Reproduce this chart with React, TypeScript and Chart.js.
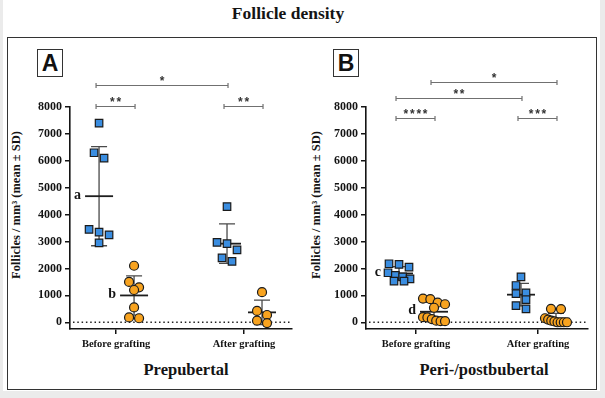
import React, { useEffect, useRef } from "react";
import { Chart, registerables } from "chart.js";

Chart.register(...registerables);

// ---------- data ----------
const categories = ["Before grafting", "After grafting"];
const yTicks = [0, 1000, 2000, 3000, 4000, 5000, 6000, 7000, 8000];
const yMin = -250;
const yMax = 8000;

// Prepubertal (A)
const prepubBlueBefore = [7400, 6300, 6100, 3450, 3350, 3250, 2950];
const prepubOrangeBefore = [2100, 1500, 1300, 1200, 550, 180, 150];
const prepubBlueAfter = [4300, 2970, 2920, 2690, 2390, 2260];
const prepubOrangeAfter = [1120, 420, 270, 60, -30];
const prepubLetters = [["a", "b"], ["", ""]];

// Peri-/postpubertal (B)
const periBlueBefore = [2175, 2150, 2050, 1840, 1740, 1690, 1615, 1530, 1530];
const periOrangeBefore = [880, 860, 730, 670, 540, 190, 180, 120, 60, 40, 40];
const periBlueAfter = [1690, 1366, 1093, 1068, 845, 621, 497];
const periOrangeAfter = [500, 490, 150, 100, 60, 30, 0, 0, 0, 0];
const periLetters = [["c", "d"], ["", ""]];

// significance brackets: from/to = [categoryIndex, seriesIndex]
type Bracket = { from: [number, number]; to: [number, number]; y: number; label: string };
const prepubBrackets: Bracket[] = [
  { from: [0, 0], to: [0, 1], y: 8050, label: "**" },
  { from: [1, 0], to: [1, 1], y: 8050, label: "**" },
  { from: [0, 0], to: [1, 0], y: 8800, label: "*" },
];
const periBrackets: Bracket[] = [
  { from: [0, 0], to: [0, 1], y: 7600, label: "****" },
  { from: [1, 0], to: [1, 1], y: 7600, label: "***" },
  { from: [0, 0], to: [1, 0], y: 8330, label: "**" },
  { from: [0, 1], to: [1, 1], y: 8930, label: "*" },
];

// ---------- styles ----------
const BLUE = "#3a8de0";
const ORANGE = "#f8a31f";
const INK = "#141414";
const SERIF = "'Liberation Serif', 'Times New Roman', serif";
const SANS = "'Liberation Sans', Arial, sans-serif";
const groupOffsetPx = [-17, 18];
const rowHeightPx = 8;
const rowStepPx = 10;
const rowMaxWidthPx = 22;

type Panel = {
  values: number[][][]; // [category][series]
  letters: string[][];
  brackets: Bracket[];
  xRange: [number, number];
  padLeft: number;
  padRight: number;
};

const prepubPanel: Panel = {
  values: [
    [prepubBlueBefore, prepubOrangeBefore],
    [prepubBlueAfter, prepubOrangeAfter],
  ],
  letters: prepubLetters,
  brackets: prepubBrackets,
  xRange: [0.64, 2.375],
  padLeft: 20,
  padRight: 313,
};

const periPanel: Panel = {
  values: [
    [periBlueBefore, periOrangeBefore],
    [periBlueAfter, periOrangeAfter],
  ],
  letters: periLetters,
  brackets: periBrackets,
  xRange: [0.59, 2.41],
  padLeft: 316,
  padRight: 17,
};

function meanSd(v: number[]) {
  const m = v.reduce((a, b) => a + b, 0) / v.length;
  const s = Math.sqrt(v.reduce((a, b) => a + (b - m) * (b - m), 0) / (v.length - 1));
  return { m, s };
}

// Prism-like scatter: group points of similar pixel height into rows, spread each row centred
function rowSpread(pys: number[]): number[] {
  const order = pys.map((y, i) => i).sort((a, b) => pys[a] - pys[b]);
  const offs = new Array(pys.length).fill(0);
  let i = 0;
  while (i < order.length) {
    const start = pys[order[i]];
    const row: number[] = [];
    while (i < order.length && pys[order[i]] - start <= rowHeightPx) {
      row.push(order[i]);
      i++;
    }
    const n = row.length;
    const step = n > 1 ? Math.min(rowStepPx, rowMaxWidthPx / (n - 1)) : 0;
    row.forEach((idx, k) => {
      offs[idx] = (k - (n - 1) / 2) * step;
    });
  }
  return offs;
}

function buildChart(canvas: HTMLCanvasElement, panel: Panel) {
  const datasets: any[] = [];
  panel.values.forEach((bySeries, c) => {
    bySeries.forEach((vals, s) => {
      datasets.push({
        label: `${categories[c]}-${s}`,
        data: vals.map((v) => ({ x: c + 1, y: v })),
        _vals: vals,
        _cat: c,
        _series: s,
        showLine: false,
        pointStyle: s === 0 ? "rect" : "circle",
        pointRadius: s === 0 ? 5.3 : 4.5,
        backgroundColor: s === 0 ? BLUE : ORANGE,
        borderColor: "#1b1b1b",
        borderWidth: 1.2,
        clip: false,
      });
    });
  });

  const groupPx = (chart: any, c: number, s: number) =>
    chart.scales.x.getPixelForValue(c + 1) + groupOffsetPx[s];

  const overlay = {
    id: "overlay",
    beforeDatasetsDraw(chart: any) {
      const { ctx, chartArea } = chart;
      const y = chart.scales.y;
      ctx.save();
      const y0 = y.getPixelForValue(0);
      ctx.setLineDash([1.5, 2.8]);
      ctx.strokeStyle = "#222";
      ctx.lineWidth = 1.4;
      ctx.beginPath();
      ctx.moveTo(chartArea.left + 3, y0);
      ctx.lineTo(chartArea.right, y0);
      ctx.stroke();
      ctx.setLineDash([]);
      panel.values.forEach((bySeries, c) => {
        bySeries.forEach((vals, s) => {
          const { m, s: sd } = meanSd(vals);
          const cx = groupPx(chart, c, s);
          const pm = y.getPixelForValue(m);
          const pt = y.getPixelForValue(m + sd);
          const pb = y.getPixelForValue(m - sd);
          ctx.strokeStyle = "#4a4a4a";
          ctx.lineWidth = 1.3;
          ctx.beginPath();
          ctx.moveTo(cx, pt);
          ctx.lineTo(cx, pb);
          ctx.moveTo(cx - 8, pt);
          ctx.lineTo(cx + 8, pt);
          ctx.moveTo(cx - 8, pb);
          ctx.lineTo(cx + 8, pb);
          ctx.stroke();
          ctx.strokeStyle = "#1e1e1e";
          ctx.lineWidth = 1.8;
          ctx.beginPath();
          ctx.moveTo(cx - 14, pm);
          ctx.lineTo(cx + 14, pm);
          ctx.stroke();
        });
      });
      ctx.restore();
    },
    afterDatasetsDraw(chart: any) {
      const { ctx } = chart;
      const y = chart.scales.y;
      ctx.save();
      ctx.font = `bold 14px ${SERIF}`;
      ctx.fillStyle = INK;
      ctx.textAlign = "right";
      ctx.textBaseline = "middle";
      panel.letters.forEach((row, c) => {
        row.forEach((letter, s) => {
          if (!letter) return;
          const { m } = meanSd(panel.values[c][s]);
          ctx.fillText(letter, groupPx(chart, c, s) - 18, y.getPixelForValue(m) - 1);
        });
      });
      panel.brackets.forEach((b) => {
        const x1 = groupPx(chart, b.from[0], b.from[1]) - 3;
        const x2 = groupPx(chart, b.to[0], b.to[1]) + 1;
        const py = Math.round(y.getPixelForValue(b.y)) + 0.5;
        ctx.strokeStyle = "#707070";
        ctx.lineWidth = 1.2;
        ctx.beginPath();
        ctx.moveTo(x1, py);
        ctx.lineTo(x2, py);
        ctx.moveTo(x1, py - 2.5);
        ctx.lineTo(x1, py + 2.5);
        ctx.moveTo(x2, py - 2.5);
        ctx.lineTo(x2, py + 2.5);
        ctx.stroke();
        ctx.font = `bold 12px ${SANS}`;
        ctx.fillStyle = "#333";
        ctx.textAlign = "center";
        ctx.textBaseline = "alphabetic";
        const n = b.label.length;
        const step = 6.4;
        const mid = (x1 + x2) / 2;
        for (let i = 0; i < n; i++) {
          ctx.fillText(b.label[i], mid + (i - (n - 1) / 2) * step, py - 1);
        }
      });
      ctx.restore();
    },
  };

  const chart = new Chart(canvas, {
    type: "scatter",
    data: { datasets },
    plugins: [overlay],
    options: {
      responsive: false,
      animation: false,
      devicePixelRatio: 1,
      events: [],
      layout: { padding: { left: panel.padLeft, right: panel.padRight, top: 107, bottom: 29 } },
      plugins: { legend: { display: false }, tooltip: { enabled: false }, title: { display: false } },
      scales: {
        x: {
          type: "linear",
          min: panel.xRange[0],
          max: panel.xRange[1],
          afterBuildTicks: (s: any) => {
            s.ticks = categories.map((_, i) => ({ value: i + 1 }));
          },
          afterFit: (s: any) => {
            s.height = 40;
          },
          ticks: {
            callback: (v: any) => categories[Math.round(Number(v)) - 1] ?? "",
            font: { family: SERIF, weight: "bold", size: 10.5 },
            color: INK,
            padding: 4,
            maxRotation: 0,
            autoSkip: false,
          },
          grid: { display: true, drawOnChartArea: false, drawTicks: true, tickLength: 5, color: INK, lineWidth: 1.5 },
          border: { display: true, color: INK, width: 1.6 },
        },
        y: {
          type: "linear",
          min: yMin,
          max: yMax,
          afterBuildTicks: (s: any) => {
            s.ticks = yTicks.map((v) => ({ value: v }));
          },
          afterFit: (s: any) => {
            s.width = 50;
          },
          ticks: {
            callback: (v: any) => String(v),
            font: { family: SERIF, weight: "bold", size: 12 },
            color: INK,
            padding: 3,
            autoSkip: false,
          },
          grid: { display: true, drawOnChartArea: false, drawTicks: true, tickLength: 5, color: INK, lineWidth: 1.5 },
          border: { display: true, color: INK, width: 1.6 },
        },
      },
    } as any,
  });

  const xs: any = chart.scales.x;
  const ys: any = chart.scales.y;
  chart.data.datasets.forEach((ds: any) => {
    const centre = xs.getPixelForValue(ds._cat + 1) + groupOffsetPx[ds._series];
    const offs = rowSpread(ds._vals.map((v: number) => ys.getPixelForValue(v)));
    ds.data = ds._vals.map((v: number, i: number) => ({ x: xs.getValueForPixel(centre + offs[i]), y: v }));
  });
  chart.update();
  return chart;
}

const abs = (o: React.CSSProperties): React.CSSProperties => ({ position: "absolute", ...o });

export default function App() {
  const refA = useRef<HTMLCanvasElement>(null);
  const refB = useRef<HTMLCanvasElement>(null);

  useEffect(() => {
    const a = buildChart(refA.current as HTMLCanvasElement, prepubPanel);
    const b = buildChart(refB.current as HTMLCanvasElement, periPanel);
    return () => {
      a.destroy();
      b.destroy();
    };
  }, []);

  const yTitle = "Follicles / mm³ (mean ± SD)";
  const letterBox: React.CSSProperties = {
    width: 26,
    height: 28,
    boxSizing: "border-box",
    border: "1.5px solid #333",
    fontFamily: SANS,
    fontWeight: "bold",
    fontSize: 23,
    lineHeight: "26px",
    textAlign: "center",
    color: "#111",
    background: "#fff",
  };
  const rotTitle = (cx: number): React.CSSProperties =>
    abs({
      left: cx,
      top: 205,
      transform: "translate(-50%, -50%) rotate(-90deg)",
      whiteSpace: "nowrap",
      fontFamily: SERIF,
      fontWeight: "bold",
      fontSize: 12.5,
      color: INK,
    });
  const sub = (cx: number): React.CSSProperties =>
    abs({
      left: cx - 120,
      width: 240,
      top: 360,
      textAlign: "center",
      fontFamily: SERIF,
      fontWeight: "bold",
      fontSize: 16.5,
      lineHeight: "20px",
      color: INK,
    });

  return (
    <div style={abs({ left: 0, top: 0, width: 605, height: 398, background: "#ebebeb", overflow: "hidden" })}>
      <div style={abs({ left: 3, top: 0, width: 597, height: 391, background: "#fff" })} />
      <div
        style={abs({
          left: 138,
          width: 300,
          top: 2,
          textAlign: "center",
          fontFamily: SERIF,
          fontWeight: "bold",
          fontSize: 17.5,
          lineHeight: "22px",
          color: INK,
        })}
      >
        Follicle density
      </div>
      <div
        style={abs({
          left: 7,
          top: 37,
          width: 590,
          height: 353,
          boxSizing: "border-box",
          border: "1.5px solid #333",
        })}
      />
      <div style={abs({ left: 37, top: 49, ...letterBox })}>A</div>
      <div style={abs({ left: 333, top: 49, ...letterBox })}>B</div>
      <div style={rotTitle(16)}>{yTitle}</div>
      <div style={rotTitle(316)}>{yTitle}</div>
      <div style={sub(186)}>Prepubertal</div>
      <div style={sub(484)}>Peri-/postbubertal</div>
      <canvas ref={refA} width={605} height={398} style={abs({ left: 0, top: 0, width: 605, height: 398 })} />
      <canvas ref={refB} width={605} height={398} style={abs({ left: 0, top: 0, width: 605, height: 398 })} />
    </div>
  );
}
